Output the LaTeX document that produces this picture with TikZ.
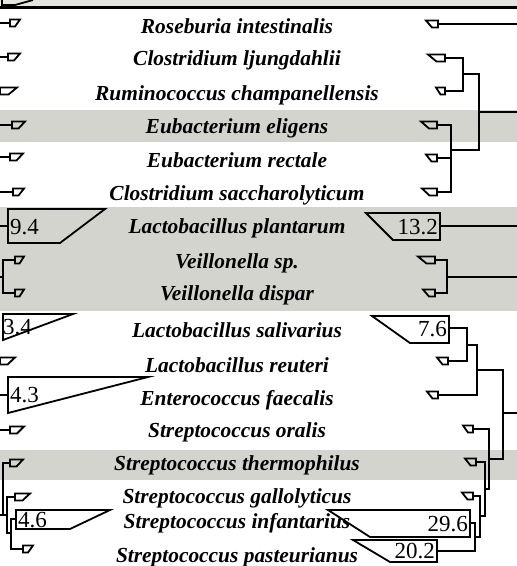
\documentclass[tikz,border=0pt]{standalone}
\usepackage{fontspec}
\setmainfont{Liberation Serif}
\definecolor{bandgray}{RGB}{212,212,207}
\definecolor{topgray}{RGB}{228,228,225}
\newcommand{\RT}[4]{% name, right x, left x, y
  \draw[mk] (#2,#4-3.5) -- (#3,#4-3.5) -- ({(#2+#3)/2},#4+3.5) -- (#2,#4+3.5) -- cycle;
  \coordinate (#1) at (#2,#4);}
\newcommand{\LT}[4]{% name, left x, right x, y
  \draw[mk] (#2,#4-3.5) -- (#3,#4-3.5) -- ({(#2+#3)/2},#4+3.5) -- (#2,#4+3.5) -- cycle;
  \coordinate (#1) at (#2,#4);}
\begin{document}
\begin{tikzpicture}[x=1pt,y=-1pt,
  ln/.style={line width=1.8pt},
  mk/.style={line width=1.8pt, line join=miter},
  sp/.style={font=\fontsize{21.4}{24}\selectfont\bfseries\itshape, anchor=base, inner sep=0pt},
  num/.style={font=\fontsize{23}{24}\selectfont, inner sep=0pt}]
\useasboundingbox (0,0) rectangle (517,566);
% bands
\fill[topgray] (0,0) rectangle (517,6);
\fill[bandgray] (0,110) rectangle (517,142);
\fill[bandgray] (0,207) rectangle (517,311);
\fill[bandgray] (0,450) rectangle (517,480);
\draw[line width=3pt] (0,7.5) -- (517,7.5);
\draw[mk] (2,0) -- (2,5) -- (15,5) -- (33,0);

% ---------- right tree ----------
\RT{r1}{438}{426}{24}
\RT{r2}{445}{428}{58}
\RT{r3}{445}{436}{91}
\RT{r4}{437}{421}{125}
\RT{r5}{437}{426}{158}
\RT{r6}{437}{422}{192}
\RT{r8}{435}{418}{260}
\RT{r9}{435}{423}{293}
\RT{r11}{448}{437}{361}
\RT{r12}{438}{427}{395}
\RT{r13}{473}{463}{429}
\RT{r14}{476}{465}{462}
\RT{r15}{473}{462}{496}
% boxes right
\draw[mk] (440,213) -- (366,213) -- (393,240) -- (440,240) -- cycle;
\node[num,anchor=east] (b132) at (438,227) {13.2};
\coordinate (r7) at (440,226);
\draw[mk] (449,316) -- (372,316) -- (410,343) -- (449,343) -- cycle;
\node[num,anchor=east] (b76) at (447,329) {7.6};
\coordinate (r10) at (449,328);
\draw[mk] (470,510) -- (328,510) -- (370,537) -- (470,537) -- cycle;
\node[num,anchor=east] (b296) at (468,524) {29.6};
\coordinate (r16) at (470,523);
\draw[mk] (437,540) -- (353,540) -- (390,562) -- (437,562) -- cycle;
\node[num,anchor=east] (b202) at (435,551) {20.2};
\coordinate (r17) at (437,551);
% right junctions
\coordinate (nA) at (463,74);
\coordinate (nB) at (451,150);
\coordinate (nC) at (479,112);
\coordinate (nV) at (447,277);
\coordinate (nD) at (467,345);
\coordinate (nE) at (477,370);
\coordinate (nF) at (475,537);
\coordinate (nG) at (480,516);
\coordinate (nH) at (485,489);
\coordinate (nI) at (489,459);
\coordinate (nJ) at (503,413);
\coordinate (e1) at (517,24);
\coordinate (eC) at (517,112);
\coordinate (e7) at (517,226);
\coordinate (eV) at (517,277);
\coordinate (eJ) at (517,413);
\draw[ln] (r1) -- (e1);
\draw[ln] (r2) -| (nA) |- (r3);
\draw[ln] (r4) -| (nB) |- (r6);
\draw[ln] (r5) -- (nB |- r5);
\draw[ln] (nA) -| (nC) |- (nB);
\draw[ln] (nC) -- (eC);
\draw[ln] (r7) -- (e7);
\draw[ln] (r8) -| (nV) |- (r9);
\draw[ln] (nV) -- (eV);
\draw[ln] (r10) -| (nD) |- (r11);
\draw[ln] (nD) -| (nE) |- (r12);
\draw[ln] (r16) -| (nF) |- (r17);
\draw[ln] (r15) -| (nG) |- (nF);
\draw[ln] (r14) -| (nH) |- (nG);
\draw[ln] (r13) -| (nI) |- (nH);
\draw[ln] (nE) -| (nJ) |- (nI);
\draw[ln] (nJ) -- (eJ);

% ---------- left tree ----------
\LT{l1}{10}{20}{23}
\LT{l2}{8}{20}{57}
\LT{l3}{0}{17}{91}
\LT{l4}{12}{25}{125}
\LT{l5}{10}{23}{157}
\LT{l6}{13}{24}{192}
\LT{l8}{15}{24}{260}
\LT{l9}{15}{24}{293}
\LT{l11}{0}{15}{361}
\LT{l13}{10}{24}{430}
\LT{l14}{10}{23}{463}
\LT{l15}{15}{30}{497}
\LT{l17}{23}{33}{549}
% boxes left
\draw[mk] (8,209) -- (105,209) -- (60,243) -- (8,243) -- cycle;
\node[num,anchor=west] (b94) at (10,227) {9.4};
\coordinate (l7) at (8,226);
\draw[mk] (3,314) -- (73,314) -- (3,340) -- cycle;
\node[num,anchor=west] (b34) at (3,327) {3.4};
\draw[mk] (8,377) -- (148,377) -- (8,413) -- cycle;
\node[num,anchor=west] (b43) at (10,395) {4.3};
\coordinate (l12) at (8,395);
\draw[mk] (16,510) -- (110,510) -- (70,529) -- (16,529) -- cycle;
\node[num,anchor=west] (b46) at (18,520) {4.6};
\coordinate (l16) at (16,519);
% left junctions and free ends
\coordinate (s1) at (0,23);
\coordinate (s2) at (0,57);
\coordinate (s4) at (0,125);
\coordinate (s5) at (0,157);
\coordinate (s6) at (0,192);
\coordinate (s7) at (0,226);
\coordinate (s12) at (0,395);
\coordinate (s13) at (0,430);
\coordinate (mV) at (3,277);
\coordinate (sV) at (0,277);
\coordinate (mS3) at (11,533);
\coordinate (mS2) at (7,515);
\coordinate (mS1) at (3,515);
\coordinate (sS) at (0,515);
\draw[ln] (s1) -- (l1);
\draw[ln] (s2) -- (l2);
\draw[ln] (s4) -- (l4);
\draw[ln] (s5) -- (l5);
\draw[ln] (s6) -- (l6);
\draw[ln] (s7) -- (l7);
\draw[ln] (s12) -- (l12);
\draw[ln] (s13) -- (l13);
\draw[ln] (l8) -| (mV) |- (l9);
\draw[ln] (mV) -- (sV);
\draw[ln] (l16) -| (mS3) |- (l17);
\draw[ln] (l15) -| (mS2) |- (mS3);
\draw[ln] (l14) -| (mS1);
\draw[ln] (sS) -- (mS2);

% ---------- species names ----------
\node[sp] (t1) at (237,33) {Roseburia intestinalis};
\node[sp] (t2) at (237,65) {Clostridium ljungdahlii};
\node[sp] (t3) at (237,100) {Ruminococcus champanellensis};
\node[sp] (t4) at (237,133) {Eubacterium eligens};
\node[sp] (t5) at (237,167) {Eubacterium rectale};
\node[sp] (t6) at (237,200) {Clostridium saccharolyticum};
\node[sp] (t7) at (237,233) {Lactobacillus plantarum};
\node[sp] (t8) at (237,268) {Veillonella sp.};
\node[sp] (t9) at (237,300) {Veillonella dispar};
\node[sp] (t10) at (237,337) {Lactobacillus salivarius};
\node[sp] (t11) at (237,372) {Lactobacillus reuteri};
\node[sp] (t12) at (237,405) {Enterococcus faecalis};
\node[sp] (t13) at (237,437) {Streptococcus oralis};
\node[sp] (t14) at (237,470) {Streptococcus thermophilus};
\node[sp] (t15) at (237,503) {Streptococcus gallolyticus};
\node[sp] (t16) at (237,528) {Streptococcus infantarius};
\node[sp] (t17) at (237,562) {Streptococcus pasteurianus};
\end{tikzpicture}
\end{document}
